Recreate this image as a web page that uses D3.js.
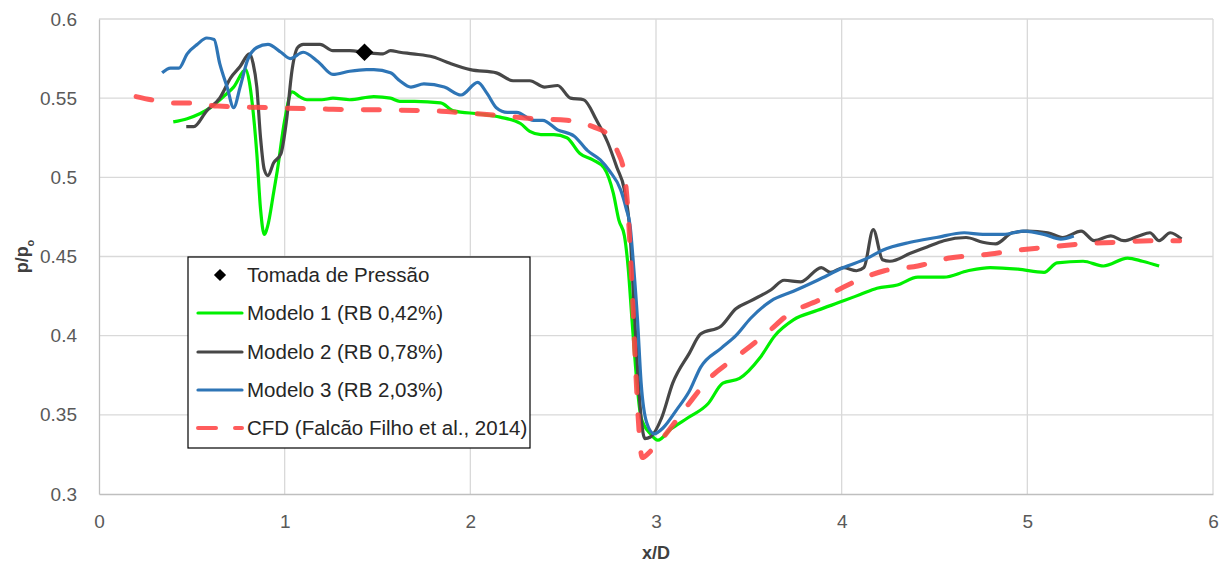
<!DOCTYPE html>
<html>
<head>
<meta charset="utf-8">
<script src="https://cdn.jsdelivr.net/npm/d3@7"></script>
<style>
  body { margin: 0; background: #fff; }
  svg text { font-family: "Liberation Sans", Arial, sans-serif; }
</style>
</head>
<body>
<svg id="chart-area"></svg>
<script>
// data (x/D, p/po)
const tomada = [[1.43, 0.579]]

const modelo1 = [
  [0.40,0.535],[0.475,0.537],[0.60,0.544],[0.68,0.552],[0.725,0.557],[0.79,0.568],[0.81,0.560],
  [0.825,0.547],[0.85,0.515],[0.87,0.480],[0.89,0.464],[0.91,0.470],[0.94,0.490],[0.96,0.504],
  [1.00,0.536],[1.04,0.554],[1.08,0.551],[1.12,0.549],[1.20,0.549],[1.26,0.550],[1.35,0.549],
  [1.48,0.551],[1.57,0.550],[1.62,0.548],[1.70,0.548],[1.84,0.547],[1.91,0.542],[2.05,0.540],
  [2.16,0.538],[2.27,0.534],[2.32,0.529],[2.38,0.527],[2.45,0.527],[2.52,0.525],[2.59,0.515],
  [2.66,0.511],[2.72,0.506],[2.77,0.490],[2.80,0.473],[2.83,0.463],[2.85,0.443],[2.87,0.411],
  [2.89,0.380],[2.92,0.348],[2.97,0.338],[3.01,0.334],[3.08,0.341],[3.17,0.348],[3.28,0.357],
  [3.36,0.370],[3.45,0.373],[3.56,0.386],[3.64,0.400],[3.74,0.410],[3.87,0.416],[4.01,0.422],
  [4.10,0.426],[4.19,0.430],[4.30,0.432],[4.41,0.437],[4.55,0.437],[4.68,0.441],[4.80,0.443],
  [4.95,0.442],[5.09,0.440],[5.16,0.446],[5.30,0.447],[5.41,0.444],[5.54,0.449],[5.62,0.447],
  [5.71,0.444]
]

const modelo2 = [
  [0.47,0.532],[0.51,0.532],[0.58,0.542],[0.65,0.550],[0.71,0.563],[0.76,0.570],[0.81,0.578],
  [0.83,0.572],[0.85,0.557],[0.87,0.525],[0.89,0.505],[0.91,0.501],[0.94,0.509],[0.98,0.515],
  [1.01,0.536],[1.04,0.568],[1.07,0.582],[1.10,0.584],[1.19,0.584],[1.26,0.580],[1.35,0.580],
  [1.43,0.579],[1.53,0.578],[1.57,0.580],[1.62,0.579],[1.69,0.578],[1.80,0.576],[1.89,0.572],
  [2.00,0.568],[2.14,0.566],[2.23,0.561],[2.32,0.561],[2.40,0.557],[2.47,0.558],[2.54,0.550],
  [2.61,0.549],[2.68,0.536],[2.74,0.522],[2.79,0.506],[2.83,0.492],[2.86,0.465],[2.88,0.422],
  [2.90,0.380],[2.92,0.348],[2.94,0.335],[2.97,0.336],[3.03,0.348],[3.09,0.370],[3.18,0.389],
  [3.24,0.401],[3.35,0.406],[3.43,0.417],[3.51,0.422],[3.62,0.429],[3.69,0.435],[3.78,0.434],
  [3.89,0.443],[3.94,0.440],[4.01,0.443],[4.08,0.441],[4.12,0.443],[4.17,0.467],[4.22,0.448],
  [4.26,0.447],[4.37,0.452],[4.46,0.456],[4.55,0.460],[4.67,0.462],[4.76,0.459],[4.83,0.458],
  [4.92,0.465],[5.00,0.466],[5.11,0.465],[5.19,0.462],[5.29,0.466],[5.36,0.460],[5.45,0.463],
  [5.52,0.460],[5.60,0.463],[5.66,0.465],[5.71,0.460],[5.77,0.465],[5.83,0.461]
]

const modelo3 = [
  [0.34,0.566],[0.385,0.569],[0.43,0.569],[0.475,0.578],[0.53,0.584],[0.58,0.588],[0.62,0.587],
  [0.65,0.572],[0.69,0.557],[0.725,0.544],[0.76,0.557],[0.80,0.574],[0.85,0.582],[0.91,0.584],
  [0.98,0.579],[1.03,0.575],[1.10,0.579],[1.18,0.573],[1.26,0.565],[1.35,0.567],[1.44,0.568],
  [1.48,0.568],[1.57,0.566],[1.62,0.561],[1.68,0.557],[1.75,0.559],[1.86,0.557],[1.95,0.552],
  [2.04,0.560],[2.09,0.553],[2.14,0.544],[2.20,0.541],[2.25,0.541],[2.34,0.536],[2.39,0.536],
  [2.47,0.530],[2.56,0.526],[2.63,0.517],[2.70,0.511],[2.75,0.504],[2.81,0.492],[2.84,0.480],
  [2.86,0.470],[2.88,0.443],[2.90,0.411],[2.92,0.370],[2.95,0.345],[2.99,0.338],[3.04,0.342],
  [3.11,0.353],[3.18,0.365],[3.24,0.380],[3.35,0.392],[3.43,0.400],[3.51,0.411],[3.62,0.422],
  [3.74,0.428],[3.87,0.435],[4.01,0.443],[4.14,0.449],[4.22,0.454],[4.37,0.459],[4.51,0.462],
  [4.66,0.465],[4.76,0.464],[4.87,0.464],[4.98,0.466],[5.09,0.464],[5.18,0.461],[5.25,0.463]
]

const cfd = [
  [0.20,0.551],[0.28,0.549],[0.40,0.547],[0.49,0.547],[0.64,0.545],[0.91,0.544],[1.26,0.543],
  [1.80,0.542],[1.93,0.541],[2.16,0.539],[2.34,0.537],[2.52,0.536],[2.66,0.532],[2.74,0.527],
  [2.79,0.517],[2.83,0.502],[2.85,0.477],[2.87,0.433],[2.89,0.380],[2.91,0.338],[2.925,0.323],
  [2.97,0.327],[3.04,0.336],[3.17,0.356],[3.28,0.372],[3.45,0.388],[3.60,0.402],[3.72,0.414],
  [3.87,0.422],[4.05,0.433],[4.23,0.441],[4.41,0.444],[4.58,0.449],[4.76,0.451],[4.95,0.454],
  [5.12,0.456],[5.30,0.458],[5.48,0.459],[5.66,0.460],[5.82,0.460]
]

const xTicks = [0, 1, 2, 3, 4, 5, 6]
const yTicks = [0.3, 0.35, 0.4, 0.45, 0.5, 0.55, 0.6]

const seriesNames = ["Tomada de Pressão", "Modelo 1 (RB 0,42%)", "Modelo 2 (RB 0,78%)",
                     "Modelo 3 (RB 2,03%)", "CFD (Falcão Filho et al., 2014)"]

function drawChart() {
    const svgWidth = 1226
    const svgHeight = 567
    const margin = { left: 99, right: 13, top: 19, bottom: 73 }

    const svg = d3.select("#chart-area")
        .attr("width", svgWidth)
        .attr("height", svgHeight)

    const xScale = d3.scaleLinear().domain([0, 6]).range([margin.left, svgWidth - margin.right])
    const yScale = d3.scaleLinear().domain([0.3, 0.6]).range([svgHeight - margin.bottom, margin.top])

    // gridlines
    svg.append("g")
        .selectAll("line.v")
        .data(xTicks.slice(1))
        .enter().append("line")
        .attr("x1", d => xScale(d)).attr("x2", d => xScale(d))
        .attr("y1", yScale(0.3)).attr("y2", yScale(0.6))
        .attr("stroke", "#d9d9d9").attr("stroke-width", 1.3)

    svg.append("g")
        .selectAll("line.h")
        .data(yTicks.slice(1))
        .enter().append("line")
        .attr("x1", xScale(0)).attr("x2", xScale(6))
        .attr("y1", d => yScale(d)).attr("y2", d => yScale(d))
        .attr("stroke", "#d9d9d9").attr("stroke-width", 1.3)

    // axes
    const xAxis = svg.append("g")
        .attr("transform", `translate(0,${yScale(0.3)})`)
        .call(d3.axisBottom(xScale).tickValues(xTicks).tickSize(0).tickPadding(21).tickFormat(d3.format("d")))
    const yAxis = svg.append("g")
        .attr("transform", `translate(${xScale(0)},0)`)
        .call(d3.axisLeft(yScale).tickValues(yTicks).tickSize(0).tickPadding(22).tickFormat(d => String(+d.toFixed(2))))

    ;[xAxis, yAxis].forEach(g => {
        g.select(".domain").attr("stroke", "#bfbfbf").attr("stroke-width", 1.3)
        g.selectAll("text").attr("fill", "#595959").style("font-size", "19px")
    })

    // axis titles
    svg.append("text")
        .attr("x", xScale(3)).attr("y", 559)
        .attr("text-anchor", "middle")
        .attr("fill", "#404040")
        .style("font-size", "18px").style("font-weight", "bold")
        .text("x/D")

    const yTitle = svg.append("text")
        .attr("transform", `translate(28,${yScale(0.45)}) rotate(-90)`)
        .attr("text-anchor", "middle")
        .attr("fill", "#404040")
        .style("font-size", "18px").style("font-weight", "bold")
    yTitle.append("tspan").text("p/p")
    yTitle.append("tspan").attr("baseline-shift", "sub").style("font-size", "11px").text("o")

    // lines
    const line = d3.line()
        .x(d => xScale(d[0]))
        .y(d => yScale(d[1]))
        .curve(d3.curveMonotoneX)

    const lineStyles = [
        { data: modelo1, color: "#00f000", width: 3.2, dash: null },
        { data: modelo2, color: "#474747", width: 3.2, dash: null },
        { data: modelo3, color: "#2e75b6", width: 3.2, dash: null },
        { data: cfd, color: "#ff4545", width: 5, dash: "16,22", opacity: 0.88 }
    ]

    svg.append("g")
        .selectAll("path")
        .data(lineStyles)
        .enter().append("path")
        .attr("d", d => line(d.data))
        .attr("fill", "none")
        .attr("stroke", d => d.color)
        .attr("stroke-width", d => d.width)
        .attr("stroke-linejoin", "round")
        .attr("stroke-linecap", d => d.dash ? "round" : "butt")
        .attr("stroke-dasharray", d => d.dash)
        .attr("stroke-opacity", d => d.opacity || 1)

    // pressure tap marker
    svg.append("g")
        .selectAll("path")
        .data(tomada)
        .enter().append("path")
        .attr("transform", d => `translate(${xScale(d[0])},${yScale(d[1])})`)
        .attr("d", d3.symbol().type(d3.symbolDiamond2).size(200))
        .attr("fill", "#000")

    // legend
    const legend = svg.append("g").attr("transform", "translate(188,257)")
    legend.append("rect")
        .attr("width", 342).attr("height", 191)
        .attr("fill", "#fff").attr("stroke", "#000").attr("stroke-width", 1.2)

    const rowY = [18, 56, 95, 133, 171]
    const rows = legend.selectAll("g.row")
        .data(seriesNames)
        .enter().append("g")
        .attr("transform", (d, i) => `translate(0,${rowY[i]})`)

    rows.append("text")
        .attr("x", 59).attr("y", 7)
        .attr("fill", "#262626")
        .style("font-size", "20.5px")
        .text(d => d)

    rows.filter((d, i) => i > 0).append("line")
        .attr("x1", 10).attr("x2", 54)
        .attr("stroke", (d, i) => lineStyles[i].color)
        .attr("stroke-width", (d, i) => i === 3 ? 4 : 3.2)
        .attr("stroke-linecap", "round")
        .attr("stroke-dasharray", (d, i) => i === 3 ? "18,19" : null)
        .attr("stroke-opacity", (d, i) => lineStyles[i].opacity || 1)

    rows.filter((d, i) => i === 0).append("path")
        .attr("transform", "translate(32,0)")
        .attr("d", d3.symbol().type(d3.symbolDiamond2).size(95))
        .attr("fill", "#000")
}

drawChart()
</script>
</body>
</html>
